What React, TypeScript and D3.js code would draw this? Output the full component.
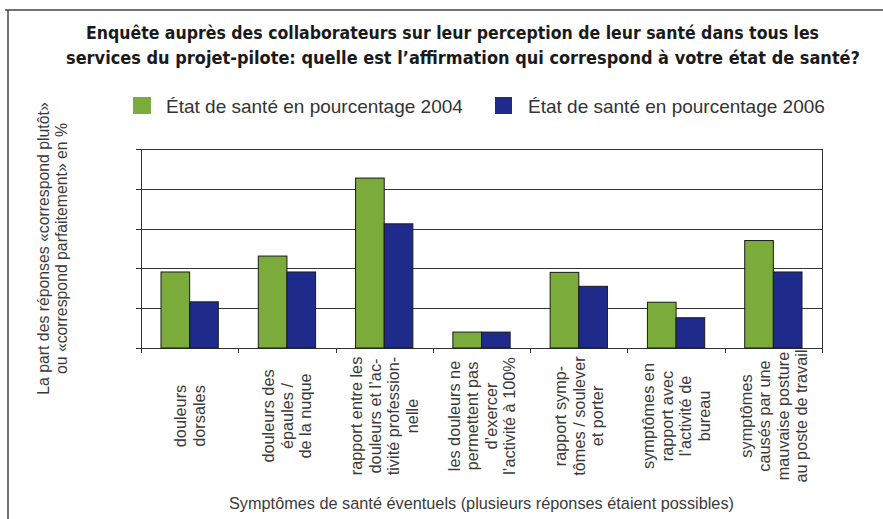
import * as d3 from "d3";

const categories = ["c1", "c2", "c3", "c4", "c5", "c6", "c7"];
const categoryLines = [
  ["douleurs", "dorsales"],
  ["douleurs des", "épaules /", "de la nuque"],
  ["rapport entre les", "douleurs et l’ac-", "tivité profession-", "nelle"],
  ["les douleurs ne", "permettent pas", "d’exercer", "l’activité à 100%"],
  ["rapport symp-", "tômes / soulever", "et porter"],
  ["symptômes en", "rapport avec", "l’activité de", "bureau"],
  ["symptômes", "causés par une", "mauvaise posture", "au poste de travail"],
];
const series = ["2004", "2006"];
const seriesLabels = [
  "État de santé en pourcentage 2004",
  "État de santé en pourcentage 2006",
];
const values2004 = [19.1, 23.1, 42.7, 4.0, 19.0, 11.5, 27.0];
const values2006 = [11.6, 19.1, 31.2, 4.0, 15.5, 7.6, 19.1];
const yTicks = [0, 10, 20, 30, 40, 50];
const titleLines = [
  "Enquête auprès des collaborateurs sur leur perception de leur santé dans tous les",
  "services du projet-pilote: quelle est l’affirmation qui correspond à votre état de santé?",
];
const yTitleLines = [
  "La part des réponses «correspond plutôt»",
  "ou «correspond parfaitement» en %",
];
const xTitle =
  "Symptômes de santé éventuels (plusieurs réponses étaient possibles)";

const colors = ["#7aab3b", "#1f2b8a"];

export default function App() {
  const width = 883;
  const height = 519;
  const left = 141;
  const right = 822;
  const top = 149;
  const bottom = 348;

  const x = d3.scaleBand<string>().domain(categories).range([left, right]);
  const inner = d3
    .scaleBand<string>()
    .domain(series)
    .range([20, x.bandwidth() - 20]);
  const y = d3.scaleLinear().domain([0, 50]).range([bottom, top]);

  const data = [values2004, values2006];
  const font = "'Liberation Sans', Arial, Helvetica, sans-serif";
  const boundaries = [...categories.map((c) => x(c)!), right];

  return (
    <svg
      width={width}
      height={height}
      style={{ position: "absolute", left: 0, top: 0, background: "#fff" }}
      fontFamily={font}
    >
      {/* frame */}
      <line x1={5} x2={883} y1={10} y2={10} stroke="#444" strokeWidth={1.5} />
      <line x1={8} x2={8} y1={10} y2={519} stroke="#444" strokeWidth={1.5} />

      {/* title */}
      <g
        fontFamily="'Liberation Sans Narrow', 'DejaVu Sans Condensed', 'Liberation Sans', Arial, sans-serif"
        fontWeight="bold"
        fontSize={17.5}
        fill="#1a1a1a"
      >
        <text x={86} y={39} textLength={733} lengthAdjust="spacingAndGlyphs">
          {titleLines[0]}
        </text>
        <text x={66} y={64} textLength={794} lengthAdjust="spacingAndGlyphs">
          {titleLines[1]}
        </text>
      </g>

      {/* legend */}
      <g fontSize={19} fill="#333">
        <rect x={133} y={97} width={18} height={17} fill={colors[0]} />
        <text x={166} y={113}>{seriesLabels[0]}</text>
        <rect x={495} y={97} width={17} height={17} fill={colors[1]} />
        <text x={528} y={113}>{seriesLabels[1]}</text>
      </g>

      {/* gridlines */}
      {yTicks.map((t) => (
        <g key={t}>
          <line
            x1={left - 5}
            x2={right}
            y1={Math.round(y(t)) + 0.5}
            y2={Math.round(y(t)) + 0.5}
            stroke="#333"
            strokeWidth={1}
          />
        </g>
      ))}
      <line
        x1={right + 0.5}
        x2={right + 0.5}
        y1={top}
        y2={bottom + 5}
        stroke="#333"
      />
      <line
        x1={left + 0.5}
        x2={left + 0.5}
        y1={top}
        y2={bottom + 5}
        stroke="#333"
      />
      {boundaries.map((b, i) => (
        <line
          key={i}
          x1={Math.round(b) + 0.5}
          x2={Math.round(b) + 0.5}
          y1={bottom}
          y2={bottom + 5}
          stroke="#333"
        />
      ))}

      {/* bars */}
      {data.map((vals, si) =>
        vals.map((v, ci) => (
          <rect
            key={`${si}-${ci}`}
            x={x(categories[ci])! + inner(series[si])!}
            y={y(v)}
            width={inner.bandwidth()}
            height={y(0) - y(v)}
            fill={colors[si]}
            stroke="#1a1a1a"
            strokeWidth={1}
          />
        ))
      )}

      {/* category labels */}
      <g fontSize={16.3} fill="#3a3a3a">
        {categories.map((c, ci) => {
          const lines = categoryLines[ci];
          const cx = x(c)! + x.bandwidth() / 2;
          return (
            <g key={c} transform={`translate(${cx},416) rotate(-90)`}>
              {lines.map((l, li) => (
                <text
                  key={li}
                  x={0}
                  y={(li - (lines.length - 1) / 2) * 18.5}
                  textAnchor="middle"
                  dominantBaseline="central"
                >
                  {l}
                </text>
              ))}
            </g>
          );
        })}
      </g>

      {/* y title */}
      <g
        transform={`translate(52.5,${(top + bottom) / 2}) rotate(-90)`}
        fontSize={15.8}
        fill="#3a3a3a"
      >
        {yTitleLines.map((l, i) => (
          <text
            key={i}
            x={0}
            y={(i - 0.5) * 18.5}
            textAnchor="middle"
            dominantBaseline="central"
          >
            {l}
          </text>
        ))}
      </g>

      {/* x title */}
      <text
        x={(left + right) / 2}
        y={509}
        textAnchor="middle"
        fontSize={16.3}
        fill="#3a3a3a"
      >
        {xTitle}
      </text>
    </svg>
  );
}
